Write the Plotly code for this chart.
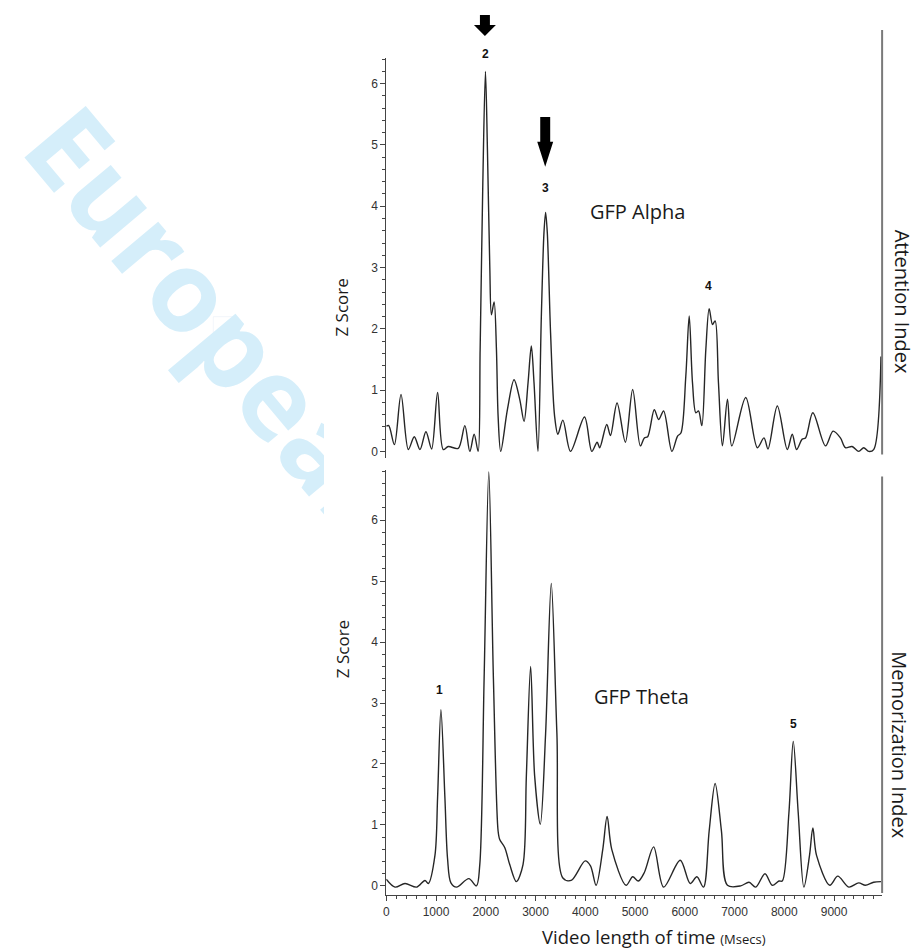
import plotly.graph_objects as go

W, H = 916, 951

# ---------------- data ----------------
alpha_t = [0, 50, 164, 297, 444, 564, 678, 798, 912, 1032, 1146, 1246, 1446, 1580, 1680, 1767, 1847,
           1887, 1941, 1994, 2034, 2081, 2114, 2168, 2215, 2248, 2301, 2435, 2569, 2683, 2770, 2850,
           2916, 2970, 3049, 3117, 3170, 3203, 3237, 3303, 3383, 3450, 3550, 3704, 3985, 4132, 4238,
           4290, 4432, 4506, 4639, 4806, 4953, 5107, 5187, 5254, 5387, 5475, 5575, 5741, 5855, 5922,
           6021, 6089, 6155, 6223, 6276, 6343, 6423, 6490, 6557, 6610, 6677, 6757, 6858, 6945, 7225,
           7459, 7592, 7673, 7860, 8060, 8160, 8247, 8360, 8427, 8574, 8828, 8981, 9128, 9228, 9362,
           9496, 9596, 9696, 9796, 9943]
alpha_z = [0.41, 0.42, 0.11, 0.93, 0.03, 0.24, 0.03, 0.32, 0.04, 0.96, 0.03, 0.08, 0.05, 0.42, 0.0, 0.28, 0.0,
           1.66, 4.38, 6.20, 4.92, 3.02, 2.23, 2.44, 1.66, 0.58, 0.0, 0.68, 1.17, 0.85, 0.49, 1.12,
           1.72, 1.12, 0.0, 2.2, 3.57, 3.90, 3.57, 1.93, 0.58, 0.28, 0.51, 0.0, 0.56, 0.0, 0.15,
           0.06, 0.44, 0.26, 0.79, 0.15, 1.01, 0.09, 0.22, 0.24, 0.68, 0.52, 0.66, 0.0, 0.25, 0.30,
           1.23, 2.21, 1.12, 0.63, 0.66, 0.42, 1.66, 2.33, 2.07, 2.13, 1.12, 0.09, 0.85, 0.09, 0.88,
           0.06, 0.22, 0.04, 0.74, 0.03, 0.28, 0.03, 0.20, 0.22, 0.63, 0.09, 0.33, 0.22, 0.06, 0.08,
           0.0, 0.06, 0.0, 0.03, 1.55]

theta_t = [0, 177, 377, 611, 778, 845, 979, 1032, 1099, 1179, 1232, 1300, 1413, 1660, 1813, 1880, 1967,
           2061, 2154, 2248, 2281, 2381, 2482, 2615, 2749, 2816, 2902, 2983, 3096, 3203, 3317, 3430,
           3550, 3717, 3998, 4105, 4218, 4352, 4439, 4532, 4820, 4953, 5067, 5187, 5374, 5575, 5908,
           6109, 6243, 6376, 6490, 6610, 6737, 6857, 7124, 7291, 7425, 7612, 7759, 7893, 7960, 8093,
           8180, 8280, 8394, 8507, 8574, 8648, 8915, 9075, 9296, 9496, 9629, 9796, 9943]
theta_z = [0.11, -0.02, 0.04, -0.02, 0.09, 0.04, 0.5, 1.45, 2.89, 1.45, 0.45, 0.05, -0.02, 0.12, 0.0, 0.35, 3.4,
           6.79, 3.4, 0.9, 0.76, 0.63, 0.35, 0.07, 0.35, 1.8, 3.60, 1.8, 1.01, 2.5, 4.96, 2.5,
           0.13, 0.09, 0.41, 0.33, 0.01, 0.6, 1.14, 0.6, 0.01, 0.15, 0.08, 0.22, 0.64, -0.02, 0.42,
           0.04, 0.15, -0.02, 0.9, 1.68, 0.9, 0.01, 0.0, 0.06, -0.02, 0.20, 0.01, 0.08, 0.08, 1.2,
           2.37, 1.2, -0.02, 0.5, 0.95, 0.5, 0.01, 0.16, -0.02, 0.05, 0.01, 0.06, 0.07]

x_ticks = [0, 1000, 2000, 3000, 4000, 5000, 6000, 7000, 8000, 9000]
y_ticks = [0, 1, 2, 3, 4, 5, 6]

peak_labels = ["1", "2", "3", "4", "5"]


def pxx(x):
    return x / W


def pyy(y):
    return 1 - y / H


fig = go.Figure()

# watermark in a hidden, clipping subplot
fig.add_trace(go.Bar(
    x=[221], y=[20], base=[317], width=[20],
    xaxis="x3", yaxis="y3",
    marker=dict(color="rgba(0,0,0,0)"),
    text=["European"], textposition="inside", insidetextanchor="middle",
    textangle=50, constraintext="none",
    textfont=dict(family="Open Sans", size=112, color="rgb(213,238,250)", weight=700),
    hoverinfo="skip", showlegend=False,
))

line_style = dict(color="#262626", width=1.4, shape="spline", smoothing=0.9)

fig.add_trace(go.Scatter(x=alpha_t, y=alpha_z, mode="lines", line=line_style,
                         xaxis="x2", yaxis="y2", showlegend=False))
fig.add_trace(go.Scatter(x=theta_t, y=theta_z, mode="lines", line=line_style,
                         xaxis="x", yaxis="y", showlegend=False))

xdom = [384.5 / W, 882 / W]
xrange_ = [0, 9966]
axis_color = "#444444"
tickfont = dict(family="Arial", size=12, color="#333333")

fig.update_layout(
    width=W, height=H,
    margin=dict(l=0, r=0, t=0, b=0),
    paper_bgcolor="white", plot_bgcolor="rgba(0,0,0,0)",
    showlegend=False,
    xaxis=dict(domain=xdom, range=xrange_, anchor="y", showline=True, linecolor=axis_color, linewidth=1,
               ticks="outside", ticklen=5, tickcolor=axis_color, tickvals=x_ticks,
               minor=dict(dtick=200, ticks="outside", ticklen=3, tickcolor=axis_color, showgrid=False),
               showgrid=False, zeroline=False, tickfont=tickfont, ticklabelstandoff=1),
    yaxis=dict(domain=[pyy(896), pyy(470)], range=[-0.15, 6.83], anchor="x", showline=True,
               linecolor=axis_color, linewidth=1, ticks="outside", ticklen=5, tickcolor=axis_color,
               tickvals=y_ticks,
               minor=dict(dtick=0.2, tick0=0, ticks="outside", ticklen=3, tickcolor=axis_color, showgrid=False),
               showgrid=False, zeroline=False, tickfont=tickfont),
    xaxis2=dict(domain=xdom, range=xrange_, anchor="y2", visible=False),
    yaxis2=dict(domain=[pyy(458), pyy(58)], range=[-0.1, 6.42], anchor="x2", showline=True,
                linecolor=axis_color, linewidth=1, ticks="outside", ticklen=5, tickcolor=axis_color,
                tickvals=y_ticks,
                minor=dict(dtick=0.2, tick0=0, ticks="outside", ticklen=3, tickcolor=axis_color, showgrid=False),
                showgrid=False, zeroline=False, tickfont=tickfont),
    xaxis3=dict(domain=[0, 322 / W], range=[0, 322], anchor="y3", visible=False, fixedrange=True),
    yaxis3=dict(domain=[0, 1], range=[H, 0], anchor="x3", visible=False, fixedrange=True),
)

ann = []
txt = dict(family="Open Sans", color="#1a1a1a")
ann.append(dict(text="Z Score", x=pxx(340), y=pyy(308), textangle=-90, font=dict(size=17, **txt)))
ann.append(dict(text="Z Score", x=pxx(340), y=pyy(650), textangle=-90, font=dict(size=17, **txt)))
ann.append(dict(text="Video length of time <span style='font-size:13px'>(Msecs)</span>",
                x=pxx(653), y=pyy(937), font=dict(size=18.5, **txt)))
ann.append(dict(text="Attention Index", x=pxx(902), y=pyy(302), textangle=90, font=dict(size=20, **txt)))
ann.append(dict(text="Memorization Index", x=pxx(900), y=pyy(745), textangle=90, font=dict(size=20, **txt)))
ann.append(dict(text="GFP Alpha", x=pxx(637), y=pyy(212), font=dict(size=20, **txt)))
ann.append(dict(text="GFP Theta", x=pxx(641), y=pyy(697), font=dict(size=20, **txt)))
lab_pos = [(438, 691), (484, 54), (544, 188), (708, 286), (793, 725)]
for lab, (lx, ly) in zip(peak_labels, lab_pos):
    ann.append(dict(text="<b>%s</b>" % lab, x=pxx(lx), y=pyy(ly),
                    font=dict(family="Arial", size=12, color="#111111")))
for a in ann:
    a.update(xref="paper", yref="paper", showarrow=False, xanchor="center", yanchor="middle")
fig.update_layout(annotations=ann)


def arrow(cx, y0, y1, y2, sw, hw):
    pts = [(cx - sw / 2, y0), (cx + sw / 2, y0), (cx + sw / 2, y1), (cx + hw / 2, y1),
           (cx, y2), (cx - hw / 2, y1), (cx - sw / 2, y1)]
    d = "M " + " L ".join("%.5f,%.5f" % (pxx(x), pyy(y)) for x, y in pts) + " Z"
    return dict(type="path", path=d, xref="paper", yref="paper", fillcolor="black",
                line=dict(width=0))


shapes = [
    arrow(483.5, 15, 25, 36, 10, 22),
    arrow(544, 117, 142, 167, 10, 16),
    dict(type="line", xref="paper", yref="paper", x0=pxx(882), x1=pxx(882), y0=pyy(30), y1=pyy(455),
         line=dict(color="#7a7a7a", width=2)),
    dict(type="line", xref="paper", yref="paper", x0=pxx(882), x1=pxx(882), y0=pyy(477), y1=pyy(894),
         line=dict(color="#7a7a7a", width=2)),
]
fig.update_layout(shapes=shapes)

fig.write_html("out.html")
